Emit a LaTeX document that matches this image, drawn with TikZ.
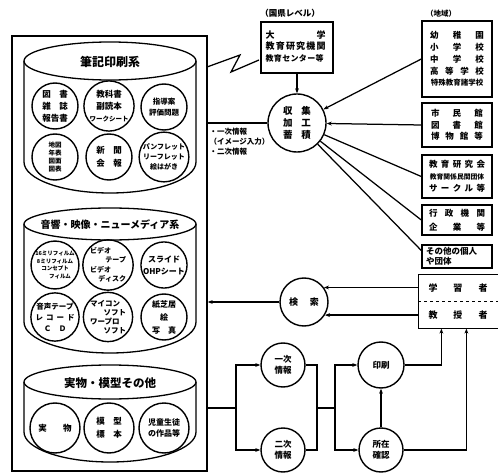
\documentclass[tikz,border=0pt]{standalone}
\usepackage{fontspec}
\usepackage{graphicx}
\setmainfont{Noto Sans CJK JP}
\usetikzlibrary{arrows.meta,calc}
\newcommand\fsz[2]{\fontsize{#1pt}{#2pt}\selectfont\bfseries}
\newcommand\spr[2]{\hbox to #1pt{#2}}
\begin{document}
\begin{tikzpicture}[x=1pt,y=-1pt,line width=1.25pt,
  circ/.style={circle,draw,line width=1.4pt,minimum size=#1,inner sep=0pt,align=center,font=\fsz{8}{11}},
  circ/.default=46pt,
  box/.style={draw,rectangle,inner sep=0pt,line width=1.4pt},
  txt/.style={inner sep=0pt,align=center},
  arr/.style={-{Stealth[length=5pt,width=3.8pt]}},
  cyl/.style={line width=1.3pt}]
\fill[white] (0,0) rectangle (498,473);
\useasboundingbox (0,0) rectangle (498,473);

% outer frame
\node[box,minimum width=195pt,minimum height=435pt] (R) at (109.5,253.5) {};

% cylinder 1
\draw[cyl] (110,61) ellipse [x radius=86,y radius=19];
\draw[cyl] (24,61) -- (24,162) arc[start angle=180,end angle=0,x radius=86,y radius=31] -- (196,61);
\node[txt,font=\fsz{12}{14}] (t1) at (110,62) {筆記印刷系};
\node[circ,font=\fsz{8.5}{12}] (a1) at (55,106) {図\hspace{1em}書\\雑\hspace{1em}誌\\報告書};
\node[circ,font=\fsz{8.5}{12}] (a2) at (109,106) {教科書\\副読本\\{\fsz{6.5}{12}ワークシート}};
\node[circ,font=\fsz{7.5}{11}] (a3) at (164,107) {指導案\\評価問題};
\node[circ,font=\fsz{6.5}{8}] (b1) at (55,157) {地図\\年表\\図面\\図表};
\node[circ,font=\fsz{8.5}{13}] (b2) at (109,157) {新\hspace{1em}聞\\会\hspace{1em}報};
\node[circ,font=\fsz{7}{10}] (b3) at (164,157) {パンフレット\\リーフレット\\絵はがき};

% cylinder 2
\draw[cyl] (110,224) ellipse [x radius=86,y radius=16];
\draw[cyl] (24,224) -- (24,322) arc[start angle=180,end angle=0,x radius=86,y radius=31] -- (196,224);
\node[txt,font=\fsz{10}{12}] (t2) at (110,225) {音響・映像・ニューメディア系};
\node[circ,font=\fsz{5.5}{7.5}] (c1) at (55,265) {16ミリフィルム\\8ミリフィルム\\コンセプト\\\hspace{10pt}フィルム};
\node[circ,font=\fsz{7}{9.5}] (c2) at (108,265) {\makebox[36pt][l]{ビデオ}\\\makebox[36pt][r]{テープ}\\\makebox[36pt][l]{ビデオ}\\\makebox[36pt][r]{ディスク}};
\node[circ,font=\fsz{8}{12}] (c3) at (164,265) {スライド\\OHPシート};
\node[circ,font=\fsz{7.5}{11}] (d1) at (55,317) {音声テープ\\レ\hspace{3pt}コ\hspace{3pt}ー\hspace{3pt}ド\\Ｃ\hspace{1em}Ｄ};
\node[circ,font=\fsz{7.5}{9}] (d2) at (108,317) {\makebox[36pt][l]{マイコン}\\\makebox[36pt][r]{ソフト}\\\makebox[36pt][l]{ワープロ}\\\makebox[36pt][r]{ソフト}};
\node[circ,font=\fsz{8}{13}] (d3) at (164,317) {紙芝居\\絵\\写\hspace{1em}真};

% cylinder 3
\draw[cyl] (110,382) ellipse [x radius=86,y radius=17];
\draw[cyl] (24,382) -- (24,432) arc[start angle=180,end angle=0,x radius=86,y radius=30] -- (196,382);
\node[txt,font=\fsz{11.5}{13}] (t3) at (110,383) {実物・模型その他};
\node[circ=50pt,font=\fsz{8.5}{12}] (e1) at (55,428) {実\hspace{1.9em}物};
\node[circ=50pt,font=\fsz{8.5}{13}] (e2) at (109,428) {模\hspace{1em}型\\標\hspace{1em}本};
\node[circ=50pt,font=\fsz{8}{11}] (e3) at (164,428) {児童生徒\\の作品等};

% national level
\node[txt,font=\fsz{8.5}{10}] (lab1) at (290,13) {（国県レベル）};
\node[box,minimum width=72pt,minimum height=51pt] (U) at (297,47.5) {};
\node[txt,font=\fsz{9}{11.5},align=left,anchor=north west] (Ut) at (265,30) {\spr{60}{大\hfill 学}\\\spr{60}{教\hfill 育\hfill 研\hfill 究\hfill 機\hfill 関}\\{\fsz{8}{12.5}\spr{58}{教\hfill 育\hfill セ\hfill ン\hfill タ\hfill ー\hfill 等}}};

% central circle
\node[circ=58pt,font=\fsz{9.5}{12}] (g) at (297,123) {\spr{28}{収\hfill 集}\\\spr{28}{加\hfill 工}\\\spr{28}{蓄\hfill 積}};

% region boxes
\node[txt,font=\fsz{7.5}{9}] (lab2) at (441,14) {（地域）};
\node[box,minimum width=70pt,minimum height=76pt] (A) at (457,59) {};
\node[txt,font=\fsz{8.5}{11.8}] (At) at (A) {\spr{54}{幼\hfill 稚\hfill 園}\\\spr{54}{小\hfill 学\hfill 校}\\\spr{54}{中\hfill 学\hfill 校}\\\spr{54}{高\hfill 等\hfill 学\hfill 校}\\{\fsz{7.5}{11.8}特殊教育諸学校}};
\node[box,minimum width=70pt,minimum height=44pt] (B) at (457,125) {};
\node[txt,font=\fsz{8.5}{11.5}] (Bt) at (B) {\spr{52}{市\hfill 民\hfill 館}\\\spr{52}{図\hfill 書\hfill 館}\\\spr{52}{博\hfill 物\hfill 館\hfill 等}};
\node[box,minimum width=70pt,minimum height=43pt] (C) at (457,176.5) {};
\node[txt,font=\fsz{8.5}{11.8}] (Ct) at (C) {\spr{56}{教\hfill 育\hfill 研\hfill 究\hfill 会}\\{\fsz{6.8}{11.8}教育関係民間団体}\\\spr{56}{サ\hfill ー\hfill ク\hfill ル\hfill 等}};
\node[box,minimum width=70pt,minimum height=30pt] (D) at (457,220) {};
\node[txt,font=\fsz{8.5}{14}] (Dt) at (D) {\spr{56}{行\hfill 政\hfill 機\hfill 関}\\\spr{56}{企\hfill 業\hfill 等}};
\node[box,minimum width=70pt,minimum height=23pt] (E) at (457,256.5) {};
\node[txt,font=\fsz{8.5}{9.5},align=left] (Et) at (E) {\spr{62}{その他の個人}\\や団体};

\node[txt,font=\fsz{7.5}{10},align=left,anchor=north west] (info) at (209,127) {・一次情報\\（イメージ入力）\\・二次情報};

% connectors to central circle
\coordinate (z0) at (207,67);
\coordinate (z1) at (240,55);
\coordinate (z2) at (231,72);
\coordinate (z3) at (259,60);
\draw (z0) -- (z1) -- (z2) -- (z3);
\draw (R.east |- g.west) -- (g.west);
\draw[arr] (U.south) -- (g.north);
\draw[arr] (A.west) -- (g);
\draw[arr] (B.west) -- (g);
\draw (g) -- (C.west);
\draw (g) -- (D.west);
\draw (g) -- ($(E.west)+(0,-6)$);

% search
\node[circ=48pt,font=\fsz{9}{11}] (s) at (304,302) {検\hspace{1.3em}索};
\node[minimum width=79pt,minimum height=53pt,inner sep=0pt] (L) at (458.5,301.5) {};
\draw[line width=1.4pt] (L.north east) -- (L.north west) -- (L.south west) -- (L.south east);
\draw[dashed,line width=1.1pt] (L.west) -- (L.east);
\node[txt,font=\fsz{9}{11}] (L1) at (458,288) {学\hspace{16pt}習\hspace{16pt}者};
\node[txt,font=\fsz{9}{11}] (L2) at (458,315) {教\hspace{16pt}授\hspace{16pt}者};
\draw[arr] (s.36 -| L.west) -- (s.36);
\draw[arr] (s.-32 -| L.west) -- (s.-32);
\draw[arr] (s.west) -- (s.west -| R.east);

% bottom network
\node[circ=44pt,font=\fsz{8.5}{11}] (p1) at (283,365) {一次\\情報};
\node[circ=44pt,font=\fsz{8.5}{11}] (p2) at (283,450) {二次\\情報};
\node[circ=46pt,font=\fsz{8.5}{11}] (q1) at (381,365) {印刷};
\node[circ=44pt,font=\fsz{8.5}{11}] (q2) at (381,450) {所在\\確認};
\coordinate (j1) at (236,408);
\coordinate (j2) at (317,408);
\coordinate (j3) at (335,408);
\draw (R.east |- j1) -- (j1);
\draw[arr] (j1) |- (p1.west);
\draw[arr] (j1) |- (p2.west);
\draw (p1.east) -| (j2);
\draw (p2.east) -| (j2);
\draw (j2) -- (j3);
\draw[arr] (j3) |- (q1.west);
\draw[arr] (j3) |- (q2.west);
\draw[arr] (q2.north) -- (q1.south);
\coordinate (k1) at ($(L.south west)+(23,0)$);
\coordinate (k2) at ($(L.south west)+(48,0)$);
\draw[arr] (q1.east) -| (k1);
\draw[arr] (q2.east) -| (k2);
\end{tikzpicture}
\end{document}
